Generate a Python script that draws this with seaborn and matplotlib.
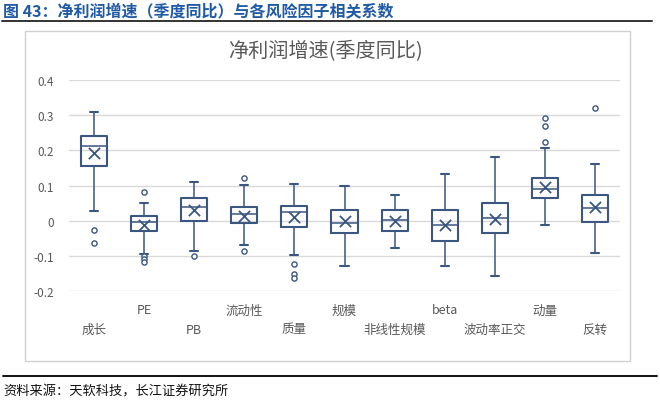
import matplotlib
matplotlib.use('Agg')
import matplotlib.pyplot as plt
import matplotlib.transforms as mtransforms
from matplotlib.patches import Rectangle
import seaborn as sns
import pandas as pd

# --- DATA --- #
factors = ['成长', 'PE', 'PB', '流动性', '质量', '规模', '非线性规模', 'beta', '波动率正交', '动量', '反转']
whis_lo = [0.027, -0.094, -0.085, -0.069, -0.098, -0.130, -0.079, -0.130, -0.157, -0.013, -0.091]
q1 = [0.155, -0.029, -0.002, -0.006, -0.018, -0.034, -0.029, -0.059, -0.034, 0.064, -0.004]
median = [0.212, -0.004, 0.039, 0.020, 0.025, -0.006, 0.001, -0.013, 0.008, 0.091, 0.036]
q3 = [0.242, 0.013, 0.064, 0.039, 0.043, 0.031, 0.031, 0.031, 0.051, 0.122, 0.074]
whis_hi = [0.310, 0.051, 0.110, 0.102, 0.104, 0.100, 0.074, 0.133, 0.180, 0.206, 0.161]
means = [0.193, -0.011, 0.029, 0.013, 0.010, -0.002, 0.000, -0.013, 0.004, 0.097, 0.039]
outliers = [
    [-0.026, -0.063],
    [0.081, -0.100, -0.108, -0.117],
    [-0.101],
    [0.122, -0.087],
    [-0.124, -0.152, -0.164],
    [],
    [],
    [],
    [],
    [0.291, 0.270, 0.225],
    [0.319],
]
y_ticks = [-0.2, -0.1, 0, 0.1, 0.2, 0.3, 0.4]
y_tick_labels = ['-0.2', '-0.1', '0', '0.1', '0.2', '0.3', '0.4']

header = '图 43：净利润增速（季度同比）与各风险因子相关系数'
chart_title = '净利润增速(季度同比)'
source = '资料来源：天软科技，长江证券研究所'

# --- STYLE --- #
sns.set_theme(style='white')
plt.rcParams['font.family'] = ['Noto Sans CJK SC', 'DejaVu Sans']
box_color = '#3b5680'
grey_text = '#595959'

W, H = 660, 402
fig = plt.figure(figsize=(W / 100, H / 100), dpi=100)


def px(x0, y0, x1, y1):
    # pixel box -> figure fraction rect
    return [x0 / W, 1 - y1 / H, (x1 - x0) / W, (y1 - y0) / H]


# chart frame
fig.patches.append(Rectangle((24.5 / W, 1 - 362 / H), (630 - 24.5) / W, (362 - 32) / H,
                             transform=fig.transFigure, fill=False,
                             edgecolor='#d0d0d0', linewidth=1.0))

ax = fig.add_axes(px(69, 81, 620, 292))

stats = []
for i, name in enumerate(factors):
    stats.append(dict(label=name, whislo=whis_lo[i], q1=q1[i], med=median[i],
                      q3=q3[i], whishi=whis_hi[i], fliers=[]))

ax.bxp(stats, positions=range(len(factors)), widths=0.52, showfliers=False,
       capwidths=0.16, patch_artist=False,
       boxprops=dict(color=box_color, linewidth=1.5),
       medianprops=dict(color=box_color, linewidth=1.1),
       whiskerprops=dict(color=box_color, linewidth=1.1),
       capprops=dict(color=box_color, linewidth=1.5))

# means as crosses
df_mean = pd.DataFrame({'pos': range(len(factors)), 'mean': means})
sns.scatterplot(data=df_mean, x='pos', y='mean', marker='x', s=65, color=box_color,
                linewidth=1.3, ax=ax, zorder=5)

# outliers as open circles
rows = []
for i, vals in enumerate(outliers):
    for v in vals:
        rows.append({'pos': i, 'value': v})
df_out = pd.DataFrame(rows)
sns.scatterplot(data=df_out, x='pos', y='value', marker='o', s=14,
                facecolor='white', edgecolor=box_color, linewidth=1.0, ax=ax, zorder=5)

ax.set_xlim(-0.5, len(factors) - 0.5)
ax.set_ylim(-0.2, 0.4)
ax.set_yticks(y_ticks)
ax.set_yticklabels(y_tick_labels, color=grey_text, fontsize=8.5)
ax.set_xticks([])
ax.set_xlabel('')
ax.set_ylabel('')
ax.tick_params(axis='y', length=0, pad=11)
ax.grid(axis='y', color='#d9d9d9', linewidth=1.0)
ax.set_axisbelow(True)
for s in ax.spines.values():
    s.set_visible(False)

# staggered category labels
trans = mtransforms.blended_transform_factory(ax.transData, fig.transFigure)
for i, name in enumerate(factors):
    ypix = 311 if i % 2 == 1 else 330
    ax.text(i, 1 - ypix / H, name, transform=trans, ha='center', va='center',
            fontsize=9, color=grey_text)

# titles and source
fig.text(325 / W, 1 - 52 / H, chart_title, ha='center', va='center',
         fontsize=14.5, color=grey_text)
fig.text(3 / W, 1 - 11 / H, header, ha='left', va='center', fontsize=11.5,
         fontweight='bold', color='#1f5aa6')
fig.add_artist(plt.Line2D([2 / W, 652 / W], [1 - 21.5 / H] * 2, color='#333333',
                          linewidth=1.4, transform=fig.transFigure))
fig.add_artist(plt.Line2D([3 / W, 657 / W], [1 - 376.5 / H] * 2, color='#111111',
                          linewidth=1.4, transform=fig.transFigure))
fig.text(3 / W, 1 - 392 / H, source, ha='left', va='center', fontsize=9.5, color='#111111')

fig.savefig('out.png', dpi=100)
